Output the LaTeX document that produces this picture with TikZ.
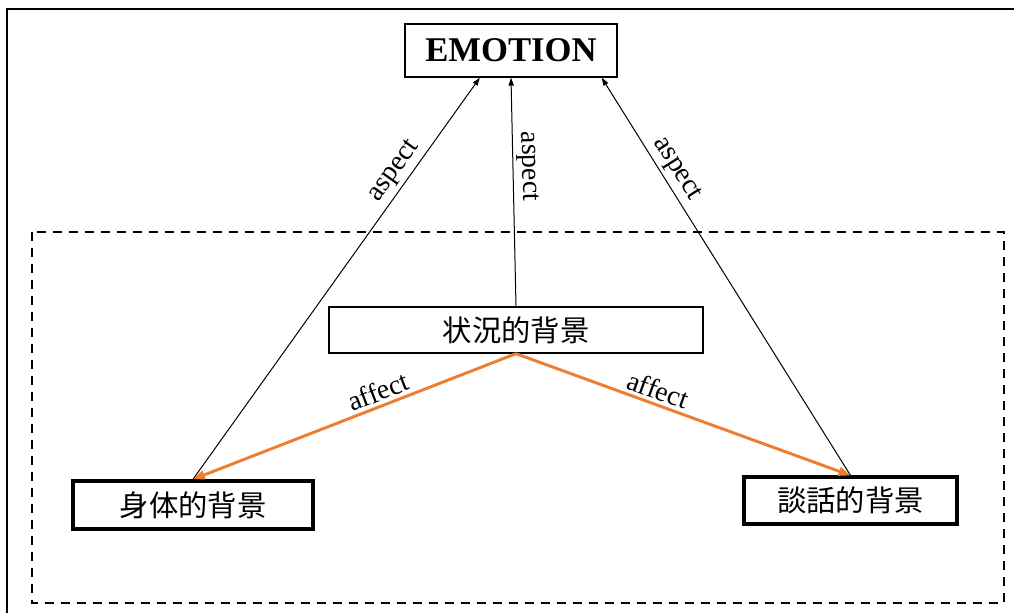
\documentclass[tikz,border=0pt]{standalone}
\usepackage{fontspec}
\setmainfont{Liberation Serif}
\newfontfamily\cjk{Noto Sans CJK JP}
\usetikzlibrary{arrows.meta,calc}
\definecolor{affectorange}{RGB}{237,125,49}
\tikzset{
  thinbox/.style={draw, line width=1pt, inner sep=0pt, fill=white},
  thickbox/.style={draw, line width=2.6pt, inner sep=0pt, fill=white},
  cjklabel/.style={font=\cjk\fontsize{22}{26}\selectfont},
  aspectarrow/.style={draw, line width=0.75pt, -{Triangle[length=6pt,width=4pt]}},
  affectarrow/.style={draw=affectorange, line width=2.2pt, -{Triangle[length=9pt,width=6.5pt]}},
  edgelabel/.style={font=\fontsize{21}{25}\selectfont, inner sep=2.5pt, sloped, above},
  groupbox/.style={draw, line width=1.4pt, dash pattern=on 7pt off 5pt},
}
\begin{document}
\begin{tikzpicture}[x=0.75pt,y=-0.75pt]
\useasboundingbox (0,0) rectangle (1014,613);
\draw[line width=1.5pt] (7,613) -- (7,9) -- (1014,9);
\draw[groupbox] (32,232) rectangle (1004,603);

\node[thinbox, minimum width=159pt, minimum height=39.75pt,
      font=\bfseries\fontsize{26}{30}\selectfont] (e) at (511,50.5) {EMOTION};
\node[thinbox, cjklabel, minimum width=280.5pt, minimum height=34.5pt] (s) at (516,330) {状況的背景};
\node[thickbox, cjklabel, minimum width=180pt, minimum height=36pt] (b) at (193,505) {身体的背景};
\node[thickbox, cjklabel, minimum width=160pt, minimum height=35pt] (t) at (850.5,500.5) {談話的背景};

\coordinate (eL) at ($(e.south west)!0.354!(e.south east)$);
\coordinate (eM) at (e.south);
\coordinate (eR) at ($(e.south west)!0.925!(e.south east)$);

\draw[aspectarrow] (b.north) -- node[edgelabel, pos=0.745] {aspect} (eL);
\draw[aspectarrow, {Triangle[length=6pt,width=4pt]}-] (eM) -- node[edgelabel, pos=0.39] {aspect} (s.north);
\draw[aspectarrow] (t.north) -- node[edgelabel, pos=0.75] {aspect} (eR);

\draw[affectarrow] (s.south) -- node[edgelabel, pos=0.41] {affect} (b.north);
\draw[affectarrow] (s.south) -- node[edgelabel, pos=0.41] {affect} (t.north);
\end{tikzpicture}
\end{document}
